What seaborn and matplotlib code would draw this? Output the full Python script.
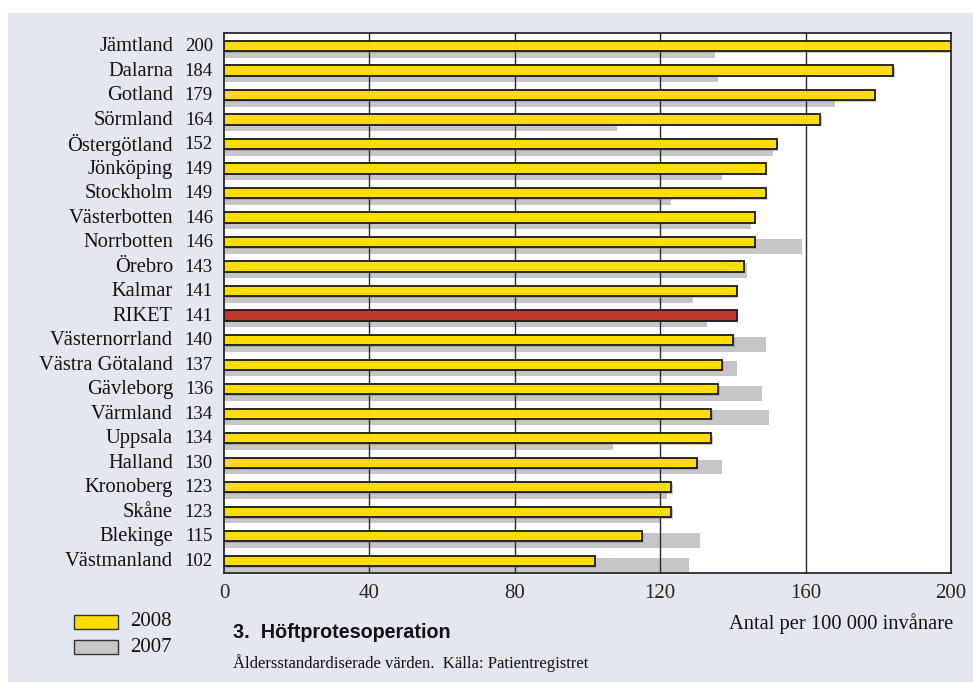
import matplotlib
matplotlib.use("Agg")
import matplotlib.pyplot as plt
import matplotlib.patheffects as pe
import matplotlib.transforms as mtransforms
from matplotlib.patches import Rectangle
import seaborn as sns
import pandas as pd

regions = ["Jämtland", "Dalarna", "Gotland", "Sörmland", "Östergötland", "Jönköping",
           "Stockholm", "Västerbotten", "Norrbotten", "Örebro", "Kalmar", "RIKET",
           "Västernorrland", "Västra Götaland", "Gävleborg", "Värmland", "Uppsala",
           "Halland", "Kronoberg", "Skåne", "Blekinge", "Västmanland"]
values_2008 = [200, 184, 179, 164, 152, 149, 149, 146, 146, 143, 141, 141,
               140, 137, 136, 134, 134, 130, 123, 123, 115, 102]
values_2007 = [135, 136, 168, 108, 151, 137, 123, 145, 159, 144, 129, 133,
               149, 141, 148, 150, 107, 137, 122, 120, 131, 128]
x_ticks = [0, 40, 80, 120, 160, 200]

YELLOW = "#FFDD00"
GREY = "#C6C6C8"
RED = "#BE3A2E"
PANEL = "#E4E7F0"

df = pd.DataFrame({"region": regions, "y2008": values_2008, "y2007": values_2007})

serif = ["Liberation Serif", "DejaVu Serif"]
sans = ["Liberation Sans", "DejaVu Sans"]

sns.set_theme(style="white")
plt.rcParams["font.family"] = serif

fig = plt.figure(figsize=(9.73, 6.82), dpi=100)
fig.patch.set_facecolor("white")

# light panel behind the whole chart
bg = fig.add_axes([8 / 973, 0, 1 - 8 / 973, 1 - 13 / 682], zorder=-5)
bg.set_facecolor(PANEL)
bg.set_xticks([])
bg.set_yticks([])
for s in bg.spines.values():
    s.set_visible(False)

ax = fig.add_axes([224 / 973, 1 - 573 / 682, (951 - 224) / 973, (573 - 33) / 682], zorder=1)
ax.set_facecolor("white")

# 2007 bars, drawn behind and shifted slightly downwards
sns.barplot(data=df, y="region", x="y2007", color=GREY, width=0.6,
            saturation=1, linewidth=0, orient="h", ax=ax, zorder=1)
grey_bars = list(ax.patches)
for p in grey_bars:
    p.set_y(p.get_y() + 0.17)

# 2008 bars, RIKET highlighted
bar_colors = [RED if r == "RIKET" else YELLOW for r in regions]
sns.barplot(data=df, y="region", x="y2008", hue="region", palette=bar_colors,
            legend=False, width=0.42, saturation=1, linewidth=1.3,
            edgecolor="#1a1a1a", orient="h", ax=ax, zorder=3)
for p in ax.patches[len(grey_bars):]:
    p.set_path_effects([pe.SimplePatchShadow(offset=(1.2, -1.2), shadow_rgbFace="#888888",
                                             alpha=0.45), pe.Normal()])

for xv in x_ticks[1:-1]:
    ax.axvline(xv, color="#2a2a2a", lw=1.0, zorder=2)

ax.set_xlim(0, 200)
ax.set_ylim(21.5, -0.53)
ax.set_xticks(x_ticks)
ax.set_xticklabels([str(v) for v in x_ticks], fontsize=15, family=serif)
ax.tick_params(axis="x", length=0, pad=8)
ax.set_yticks([])
ax.set_xlabel("")
ax.set_ylabel("")
for s in ax.spines.values():
    s.set_visible(True)
    s.set_color("#1a1a1a")
    s.set_linewidth(1.2)

# region names and 2008 values to the left of the plot
trans = mtransforms.blended_transform_factory(ax.transAxes, ax.transData)
for i, (r, v) in enumerate(zip(regions, values_2008)):
    ax.text(-0.0702, i + 0.03, r, transform=trans, ha="right", va="center",
            fontsize=14.8, family=serif, color="#111111")
    ax.text(-0.0151, i + 0.03, str(v), transform=trans, ha="right", va="center",
            fontsize=13.5, family=serif, color="#111111")

# legend
for yy, col, lab in [(615, YELLOW, "2008"), (640, GREY, "2007")]:
    fig.patches.append(Rectangle((74 / 973, 1 - (yy + 14) / 682), 44 / 973, 14 / 682,
                                 transform=fig.transFigure, facecolor=col,
                                 edgecolor="#333333", lw=1.0, zorder=2))
    fig.text(130 / 973, 1 - (yy + 7) / 682, lab, ha="left", va="center",
             fontsize=15, family=serif, color="#111111")

fig.text(233 / 973, 1 - 632 / 682, "3.  Höftprotesoperation", ha="left", va="center",
         fontsize=14.2, family=sans, fontweight="bold", color="#111111")
fig.text(233 / 973, 1 - 663 / 682, "Åldersstandardiserade värden.  Källa: Patientregistret",
         ha="left", va="center", fontsize=12, family=serif, color="#111111")
fig.text(953 / 973, 1 - 624 / 682, "Antal per 100 000 invånare", ha="right", va="center",
         fontsize=14.8, family=serif, color="#111111")

fig.savefig("out.png", dpi=100, facecolor=fig.get_facecolor())
